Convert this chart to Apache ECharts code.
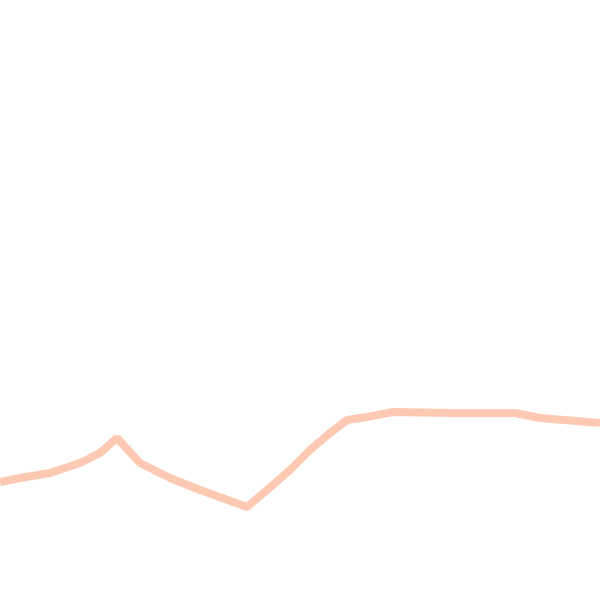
<!DOCTYPE html>
<html>
<head>
<meta charset="utf-8">
<script src="https://cdn.jsdelivr.net/npm/echarts@6/dist/echarts.min.js"></script>
<style>html,body{margin:0;padding:0;background:#fff}#chart{width:600px;height:600px}</style>
</head>
<body>
<div id="chart"></div>
<script>
// x position along the track, and height (0 = bottom, 600 = top)
var xs=[0,20,50,80,100,117,140,170,200,247,267,290,310,330,347,367,393,450,515,540,600];
var ys=[118,122,127,137,147,162,137,122,110,93,110,130,150,167,180,183,188,187,187,182,177];

var pts=[];
for(var i=0;i<xs.length;i++) pts.push([xs[i],ys[i]]);

var chart=echarts.init(document.getElementById('chart'));
chart.setOption({
    animation:false,
    grid:{left:0,right:0,top:0,bottom:0},
    xAxis:{type:'value',min:0,max:600,show:false},
    yAxis:{type:'value',min:0,max:600,show:false},
    series:[{
        type:'line',
        data:pts,
        symbol:'none',
        lineStyle:{color:'#fdbfa5',width:8,opacity:0.85}
    }]
});
</script>
</body>
</html>
